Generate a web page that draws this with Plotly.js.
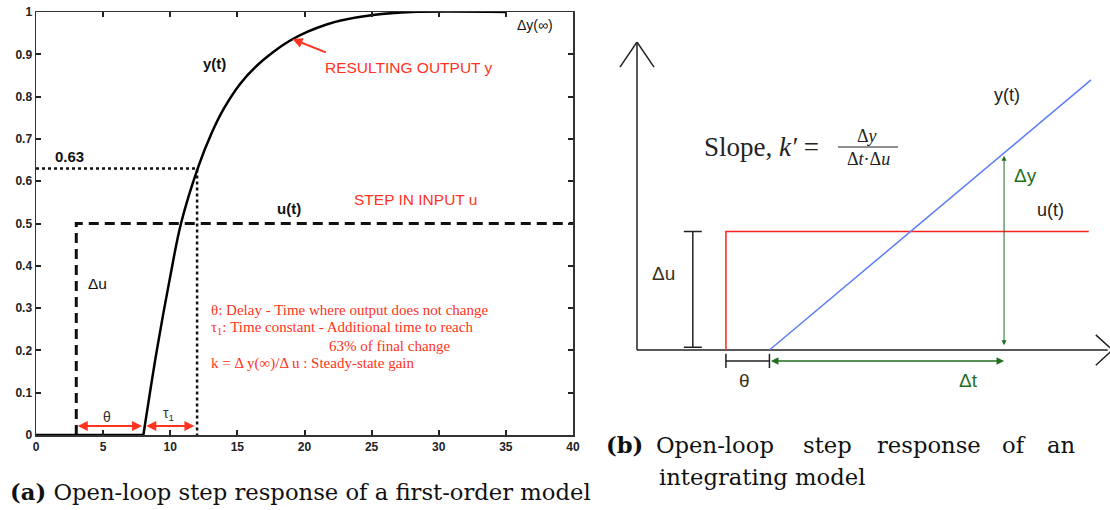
<!DOCTYPE html>
<html><head><meta charset="utf-8">
<script src="https://cdn.plot.ly/plotly-3.0.1.min.js"></script>
<style>html,body{margin:0;padding:0;background:#fff}#c{width:1110px;height:510px}</style>
</head><body><div id="c"></div>
<script>
// ---------- Panel (a): first-order model ----------
const tY = [0, 8, 9, 10, 10.8, 12.1, 13.1, 14, 15.2, 16.45, 17.7, 18.9, 20.2, 21.7, 22.7, 25.1, 28, 35];
const yY = [0, 0, 0.2, 0.375, 0.5, 0.635, 0.715, 0.772, 0.83, 0.873, 0.906, 0.932, 0.953, 0.971, 0.98, 0.993, 1.0, 1.0];
const tU = [3, 3, 40];
const yU = [0, 0.5, 0.5];
const theta = 3, deadEnd = 8, tau63 = 12, y63 = 0.63;
const xTicksA = [0, 5, 10, 15, 20, 25, 30, 35, 40];
const yTicksA = [0, 0.1, 0.2, 0.3, 0.4, 0.5, 0.6, 0.7, 0.8, 0.9, 1];

// ---------- Panel (b): integrating model ----------
const bStepT = 1.88, bLevel = 2.5, bUEnd = 9.55;
const bRampT = [2.8, 9.6];
const bRampY = [0, 5.7];
const bMeasT = 7.76, bMeasY = 4.1;

const W = 1110, H = 510;
const px = x => x / W;
const py = y => 1 - y / H;

const RED = '#ff3320';
const GREEN = '#1f6e1f';

const traces = [
  {x: [0, tau63, tau63], y: [y63, y63, 0], mode: 'lines', xaxis: 'x', yaxis: 'y',
   line: {color: '#111', width: 2.5, dash: 'dot'}, hoverinfo: 'skip'},
  {x: tU, y: yU, mode: 'lines', xaxis: 'x', yaxis: 'y',
   line: {color: '#111', width: 3, dash: '10px,6px'}, hoverinfo: 'skip'},
  // y(t): flat dead-time part and rising part
  {x: tY.slice(0, 2), y: yY.slice(0, 2), mode: 'lines', xaxis: 'x', yaxis: 'y',
   line: {color: '#000', width: 2.5}, hoverinfo: 'skip'},
  {x: tY.slice(1), y: yY.slice(1), mode: 'lines', xaxis: 'x', yaxis: 'y',
   line: {color: '#000', width: 2.5, shape: 'spline', smoothing: 1}, hoverinfo: 'skip'},

  // Panel b axes
  {x: [0, 0, null, -0.36, 0, 0.36], y: [0, 6.5, null, 5.97, 6.5, 5.97], mode: 'lines', xaxis: 'x2', yaxis: 'y2',
   line: {color: '#222', width: 1.5}, hoverinfo: 'skip'},
  {x: [0, 9.95, null, 9.7, 10.05, 9.7], y: [0, 0, null, 0.32, 0, -0.32], mode: 'lines', xaxis: 'x2', yaxis: 'y2',
   line: {color: '#222', width: 1.5}, hoverinfo: 'skip'},
  {x: [bStepT, bStepT, bUEnd], y: [0, bLevel, bLevel], mode: 'lines', xaxis: 'x2', yaxis: 'y2',
   line: {color: '#ff2020', width: 1.5}, hoverinfo: 'skip'},
  {x: bRampT, y: bRampY, mode: 'lines', xaxis: 'x2', yaxis: 'y2',
   line: {color: '#5a7ef5', width: 1.5}, hoverinfo: 'skip'},
  {x: [1.18, 1.18, null, 0.99, 1.37, null, 0.99, 1.37], y: [0.06, bLevel, null, bLevel, bLevel, null, 0.06, 0.06],
   mode: 'lines', xaxis: 'x2', yaxis: 'y2', line: {color: '#222', width: 1.5}, hoverinfo: 'skip'},
  {x: [bStepT, bRampT[0], null, bStepT, bStepT, null, bRampT[0], bRampT[0]],
   y: [-0.23, -0.23, null, -0.08, -0.38, null, -0.08, -0.38],
   mode: 'lines', xaxis: 'x2', yaxis: 'y2', line: {color: '#222', width: 1.5}, hoverinfo: 'skip'}
];

const F = (family, size, color, weight) => ({family, size, color: color || '#111', weight: weight || 'normal'});
const txt = (text, x, y, font, opt = {}) => Object.assign({
  text, x: px(x), y: py(y), xref: 'paper', yref: 'paper', showarrow: false,
  xanchor: 'center', yanchor: 'middle', font
}, opt);
const SANS = 'Liberation Sans';
const SERIF = 'Liberation Serif';
const CAP = F('DejaVu Serif', 22.7, '#111');

const ann = [
  txt('y(t)', 214, 63, F(SANS, 15, '#111', 'bold')),
  txt('RESULTING OUTPUT y', 409, 68, F(SANS, 15.5, RED)),
  txt('Δy(∞)', 535, 25, F(SANS, 14, '#111')),
  txt('0.63', 69, 156, F(SANS, 15, '#111', 'bold')),
  txt('u(t)', 289, 208, F(SANS, 15, '#111', 'bold')),
  txt('STEP IN INPUT u', 415, 200, F(SANS, 15.5, RED)),
  txt('Δu', 97, 283, F(SANS, 15.5, '#111')),
  txt('θ', 107, 417, F(SANS, 14, '#333')),
  txt('τ<sub>1</sub>', 168, 414, F(SANS, 14, '#333')),
  txt('θ: Delay - Time where output does not change', 209, 310, F(SERIF, 15, RED), {xanchor: 'left'}),
  txt('τ<sub>1</sub>: Time constant - Additional time to reach', 209, 328, F(SERIF, 15, RED), {xanchor: 'left'}),
  txt('63% of final change', 327, 346, F(SERIF, 15, RED), {xanchor: 'left'}),
  txt('k = Δ y(∞)/Δ u : Steady-state gain', 209, 363, F(SERIF, 15, RED), {xanchor: 'left'}),
  {x: 19.1, y: 0.936, ax: 21.7, ay: 0.903, xref: 'x', yref: 'y', axref: 'x', ayref: 'y',
   showarrow: true, arrowhead: 2, arrowsize: 1, arrowwidth: 2, arrowcolor: RED, text: ''},
  {x: deadEnd - 0.1, y: 0.021, ax: theta, ay: 0.021, xref: 'x', yref: 'y', axref: 'x', ayref: 'y',
   showarrow: true, arrowhead: 2, startarrowhead: 2, arrowside: 'end+start', arrowsize: 1, arrowwidth: 2,
   arrowcolor: RED, text: '', standoff: 0, startstandoff: 0},
  {x: tau63 - 0.2, y: 0.021, ax: deadEnd + 0.1, ay: 0.021, xref: 'x', yref: 'y', axref: 'x', ayref: 'y',
   showarrow: true, arrowhead: 2, startarrowhead: 2, arrowside: 'end+start', arrowsize: 1, arrowwidth: 2,
   arrowcolor: RED, text: '', standoff: 0, startstandoff: 0},

  // panel b labels
  txt('Δu', 663, 273, F(SANS, 19, '#3a3020')),
  txt('θ', 744, 380, F(SANS, 19, '#3a3020')),
  txt('Δt', 968, 380, F(SANS, 19, GREEN)),
  txt('Δy', 1025, 175, F(SANS, 19, GREEN)),
  txt('y(t)', 1007, 95, F(SANS, 18, '#222')),
  txt('u(t)', 1050, 210, F(SANS, 18, '#222')),
  txt('Slope, <i>k′</i> =', 702, 147, F(SERIF, 27, '#222'), {xanchor: 'left'}),
  txt('Δ<i>y</i>', 867, 136, F(SERIF, 18, '#222')),
  txt('Δ<i>t</i>·Δ<i>u</i>', 868, 159, F(SERIF, 18, '#222')),
  {x: bMeasT, y: bMeasY, ax: bMeasT, ay: 0.07, xref: 'x2', yref: 'y2', axref: 'x2', ayref: 'y2',
   showarrow: true, arrowhead: 2, startarrowhead: 2, arrowside: 'end+start', arrowsize: 1, arrowwidth: 1,
   arrowcolor: GREEN, text: '', standoff: 0, startstandoff: 0},
  {x: bMeasT, y: -0.23, ax: bRampT[0], ay: -0.23, xref: 'x2', yref: 'y2', axref: 'x2', ayref: 'y2',
   showarrow: true, arrowhead: 2, startarrowhead: 2, arrowside: 'end+start', arrowsize: 1, arrowwidth: 1.5,
   arrowcolor: GREEN, text: '', standoff: 0, startstandoff: 0},

  // captions
  txt('<b>(a)</b> Open-loop step response of a first-order model', 8, 492, CAP, {xanchor: 'left'}),
  txt('<b>(b)</b>', 604, 445, CAP, {xanchor: 'left'}),
  txt('Open-loop', 654, 445, CAP, {xanchor: 'left'}),
  txt('step', 801, 445, CAP, {xanchor: 'left'}),
  txt('response', 875, 445, CAP, {xanchor: 'left'}),
  txt('of', 1000, 445, CAP, {xanchor: 'left'}),
  txt('an', 1077, 445, CAP, {xanchor: 'right'}),
  txt('integrating model', 657, 477, CAP, {xanchor: 'left'})
];

const shapes = [
  {type: 'line', xref: 'paper', yref: 'paper', x0: px(838), x1: px(898), y0: py(147), y1: py(147),
   line: {color: '#222', width: 1}}
];

const axA = {
  showline: true, linecolor: '#333', linewidth: 1.5, mirror: 'ticks', ticks: 'inside',
  ticklen: 5, tickwidth: 2, tickcolor: '#222', showgrid: false, zeroline: false,
  tickfont: {family: SANS, size: 12, weight: 'bold', color: '#222'}
};

const layout = {
  width: W, height: H, margin: {l: 0, r: 0, t: 0, b: 0},
  paper_bgcolor: '#fff', plot_bgcolor: 'rgba(0,0,0,0)', showlegend: false,
  xaxis: Object.assign({}, axA, {domain: [px(36), px(573)], range: [0, 40], tickvals: xTicksA, ticktext: xTicksA.map(String), anchor: 'y'}),
  yaxis: Object.assign({}, axA, {domain: [py(435), py(12)], range: [0, 1], tickvals: yTicksA, ticktext: yTicksA.map(String), anchor: 'x'}),
  xaxis2: {domain: [px(613.35), 1], range: [-0.5, 10], visible: false, anchor: 'y2'},
  yaxis2: {domain: [py(421.1), py(42)], range: [-1.5, 6.5], visible: false, anchor: 'x2'},
  annotations: ann, shapes: shapes
};

Plotly.newPlot('c', traces, layout, {staticPlot: true, displayModeBar: false});
</script></body></html>
